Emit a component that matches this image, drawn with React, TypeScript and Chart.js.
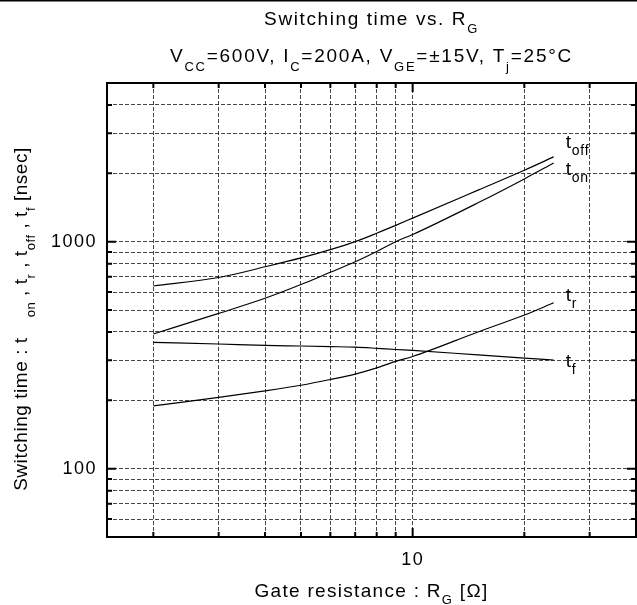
import React, { useEffect, useRef } from 'react';
import { Chart, registerables } from 'chart.js';

Chart.register(...registerables);

// ---- data ----
const rgValues = [2, 3, 4, 5, 6, 7, 8, 9, 10, 15, 20, 24];
const tOffValues = [638, 695, 775, 848, 922, 1000, 1089, 1180, 1270, 1687, 2064, 2363];
const tOnValues = [392, 483, 563, 647, 733, 815, 905, 1000, 1075, 1483, 1890, 2220];
const tRValues = [189, 206, 220, 233, 247, 261, 278, 297, 312, 400, 475, 538];
const tFValues = [360, 354, 349, 347, 345, 343, 339, 335, 332, 317, 307, 301];
const seriesSubs = ['off', 'on', 'r', 'f'];

const xGridValues = [2, 3, 4, 5, 6, 7, 8, 9, 10, 20, 30];
const yGridValues = [60, 70, 80, 90, 100, 200, 300, 400, 500, 600, 700, 800, 900, 1000, 2000, 3000, 4000];
const xTickLabels = [10];
const yTickLabels = [100, 1000];
const xMajor = [10];
const yMajor = [100, 1000];
const X_MIN = 1.5;
const X_MAX = 40;
const Y_MIN = 50;
const Y_MAX = 5000;

// ---- style ----
const FONT = '"Liberation Sans", Arial, Helvetica, sans-serif';
const LABEL_DY = [-9, 12, -2, 7];

type Part = { text: string; sub?: boolean; gap?: number };

function drawRich(
  ctx: CanvasRenderingContext2D,
  parts: Part[],
  x: number,
  y: number,
  align: 'left' | 'center',
  size: number,
  ls: number,
  drop: number,
  subScale = 0.68
) {
  ctx.save();
  ctx.textBaseline = 'alphabetic';
  ctx.textAlign = 'left';
  ctx.fillStyle = '#000';
  const setFont = (p: Part) => {
    ctx.font = `${p.sub ? Math.round(size * subScale) : size}px ${FONT}`;
    (ctx as any).letterSpacing = `${ls}px`;
  };
  const widths = parts.map((p) => {
    setFont(p);
    return ctx.measureText(p.text).width + (p.gap || 0);
  });
  const total = widths.reduce((a, b) => a + b, 0);
  let cx = align === 'center' ? x - total / 2 : x;
  parts.forEach((p, i) => {
    setFont(p);
    ctx.fillText(p.text, cx + (p.gap || 0), p.sub ? y + drop : y);
    cx += widths[i];
  });
  ctx.restore();
}

const decorPlugin = {
  id: 'decor',
  beforeDraw(chart: any) {
    (chart.ctx as any).letterSpacing = '1.5px';
  },
  afterDraw(chart: any) {
    const ctx: CanvasRenderingContext2D = chart.ctx;
    (ctx as any).letterSpacing = '0px';
    const { left, right, top, bottom } = chart.chartArea;
    const xs = chart.scales.x;
    const ys = chart.scales.y;
    ctx.save();
    // top rule of the page
    ctx.strokeStyle = '#000';
    ctx.lineWidth = 1.5;
    ctx.beginPath();
    ctx.moveTo(0, 0.75);
    ctx.lineTo(chart.width, 0.75);
    ctx.stroke();
    // frame
    ctx.lineWidth = 2;
    ctx.strokeRect(left, top, right - left, bottom - top);
    // inward ticks
    ctx.lineWidth = 2;
    ctx.beginPath();
    xGridValues.forEach((v) => {
      const px = xs.getPixelForValue(v);
      const len = xMajor.includes(v) ? 9 : 5;
      ctx.moveTo(px, bottom);
      ctx.lineTo(px, bottom - len);
      ctx.moveTo(px, top);
      ctx.lineTo(px, top + len);
    });
    yGridValues.forEach((v) => {
      const py = ys.getPixelForValue(v);
      const len = yMajor.includes(v) ? 9 : 5;
      ctx.moveTo(left, py);
      ctx.lineTo(left + len, py);
      ctx.moveTo(right, py);
      ctx.lineTo(right - len, py);
    });
    ctx.stroke();
    ctx.restore();

    // curve labels
    chart.data.datasets.forEach((ds: any, i: number) => {
      const meta = chart.getDatasetMeta(i);
      const last = meta.data[meta.data.length - 1];
      drawRich(ctx, [{ text: 't' }, { text: seriesSubs[i], sub: true }], last.x + 12, last.y + LABEL_DY[i], 'left', 19, 0.8, 7, 0.74);
    });

    const cxMid = (left + right) / 2;
    // titles
    drawRich(ctx, [{ text: 'Switching time vs. R' }, { text: 'G', sub: true }], cxMid, 25, 'center', 19, 1.6, 8);
    drawRich(
      ctx,
      [
        { text: 'V' },
        { text: 'CC', sub: true },
        { text: '=600V, I' },
        { text: 'C', sub: true },
        { text: '=200A, V' },
        { text: 'GE', sub: true },
        { text: '=±15V, T' },
        { text: 'j', sub: true },
        { text: '=25°C' },
      ],
      cxMid,
      62,
      'center',
      19,
      1.75,
      9
    );
    // x axis title
    drawRich(ctx, [{ text: 'Gate resistance : R' }, { text: 'G', sub: true }, { text: ' [Ω]' }], cxMid, 597, 'center', 19, 1.3, 7);
    // y axis title
    ctx.save();
    ctx.translate(27, 319);
    ctx.rotate(-Math.PI / 2);
    drawRich(
      ctx,
      [
        { text: 'Switching time : t' },
        { text: 'on', sub: true, gap: 20 },
        { text: ' , t' },
        { text: 'r', sub: true },
        { text: ' , t' },
        { text: 'off', sub: true },
        { text: ' , t' },
        { text: 'f', sub: true },
        { text: ' [nsec]' },
      ],
      0,
      0,
      'center',
      19,
      0.55,
      8
    );
    ctx.restore();
  },
};

export default function App() {
  const canvasRef = useRef<HTMLCanvasElement | null>(null);

  useEffect(() => {
    if (!canvasRef.current) return;
    const mk = (vals: number[]) => rgValues.map((x, i) => ({ x, y: vals[i] }));
    const seriesList = [tOffValues, tOnValues, tRValues, tFValues];
    const chart = new Chart(canvasRef.current, {
      type: 'line',
      data: {
        datasets: seriesList.map((vals, i) => ({
          label: 't' + seriesSubs[i],
          data: mk(vals),
          borderColor: '#000',
          borderWidth: 1.15,
          pointRadius: 0,
          fill: false,
          cubicInterpolationMode: 'monotone' as const,
        })),
      },
      options: {
        animation: false,
        responsive: false,
        devicePixelRatio: 1,
        layout: { padding: { left: 0, right: 1, top: 83, bottom: 0 } },
        plugins: { legend: { display: false }, tooltip: { enabled: false }, title: { display: false } },
        scales: {
          x: {
            type: 'logarithmic',
            min: X_MIN,
            max: X_MAX,
            afterBuildTicks: (s: any) => {
              s.ticks = xGridValues.map((v) => ({ value: v }));
            },
            afterFit: (s: any) => {
              s.height = 68;
            },
            ticks: {
              autoSkip: false,
              maxRotation: 0,
              padding: 12,
              color: '#000',
              font: { family: FONT, size: 18 },
              callback: (v: any) => (xTickLabels.includes(Number(v)) ? String(v) : ''),
            },
            grid: { color: 'rgba(0,0,0,0.72)', lineWidth: 1, drawTicks: false },
            border: { display: false, dash: [4, 2] },
          },
          y: {
            type: 'logarithmic',
            min: Y_MIN,
            max: Y_MAX,
            afterBuildTicks: (s: any) => {
              s.ticks = yGridValues.map((v) => ({ value: v }));
            },
            afterFit: (s: any) => {
              s.width = 107;
            },
            ticks: {
              autoSkip: false,
              padding: 10,
              color: '#000',
              font: { family: FONT, size: 18 },
              callback: (v: any) => (yTickLabels.includes(Number(v)) ? String(v) : ''),
            },
            grid: { color: 'rgba(0,0,0,0.72)', lineWidth: 1, drawTicks: false },
            border: { display: false, dash: [4, 2] },
          },
        },
      },
      plugins: [decorPlugin],
    } as any);
    return () => chart.destroy();
  }, []);

  return (
    <div style={{ position: 'fixed', left: 0, top: 0, width: 637, height: 605, background: '#fff' }}>
      <canvas ref={canvasRef} width={637} height={605} style={{ display: 'block', width: 637, height: 605 }} />
    </div>
  );
}
